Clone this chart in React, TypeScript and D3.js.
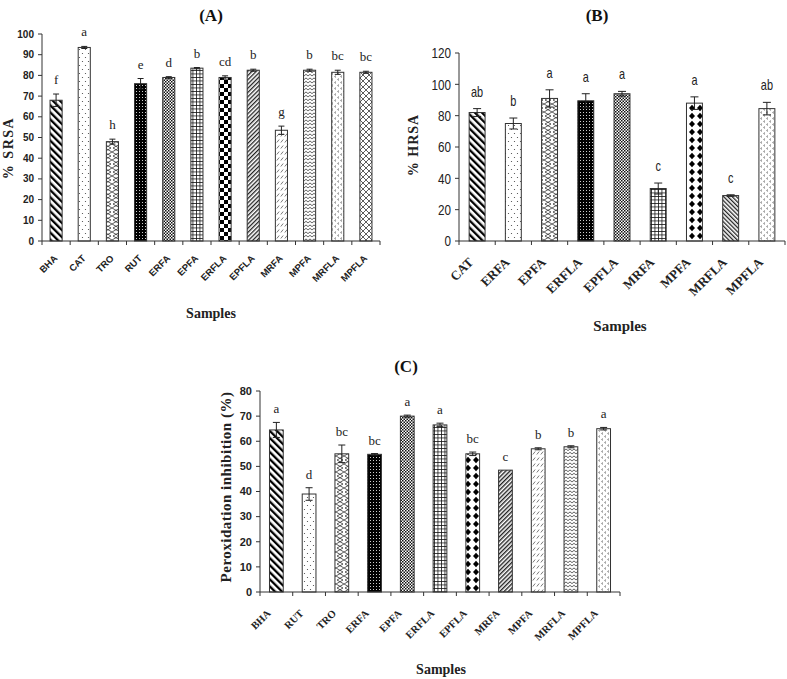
import React from 'react';
import * as d3 from 'd3';

// Panel A - superoxide radical scavenging
const aCats = ['BHA', 'CAT', 'TRO', 'RUT', 'ERFA', 'EPFA', 'ERFLA', 'EPFLA', 'MRFA', 'MPFA', 'MRFLA', 'MPFLA'];
const aValues = [68, 93.5, 48, 76, 79, 83.5, 79, 82.5, 53.5, 82.5, 81.5, 81.5];
const aErrors = [3, 0.5, 1.2, 2.5, 0.4, 0.3, 0.8, 0.5, 2, 0.5, 1, 0.5];
const aLetters = ['f', 'a', 'h', 'e', 'd', 'b', 'cd', 'b', 'g', 'b', 'bc', 'bc'];
const aFills = ['bdiag', 'dots', 'zigzag', 'blackdots', 'finecheck', 'grid', 'bigcheck', 'fdiag', 'dashes', 'wave', 'dots2', 'crosshatch'];
const aTicks = [0, 10, 20, 30, 40, 50, 60, 70, 80, 90, 100];

// Panel B - hydroxyl radical scavenging
const bCats = ['CAT', 'ERFA', 'EPFA', 'ERFLA', 'EPFLA', 'MRFA', 'MPFA', 'MRFLA', 'MPFLA'];
const bValues = [82, 75, 91, 89.5, 94, 33.5, 88, 29, 84.5];
const bErrors = [2.5, 3.5, 5.5, 4.5, 1.5, 3.5, 4, 0.5, 4];
const bLetters = ['ab', 'b', 'a', 'a', 'a', 'c', 'a', 'c', 'ab'];
const bFills = ['bdiag', 'dots', 'zigzag', 'blackdots', 'finecheck', 'grid', 'diamonds', 'bdiagfine', 'dots2'];
const bTicks = [0, 20, 40, 60, 80, 100, 120];

// Panel C - lipid peroxidation inhibition
const cCats = ['BHA', 'RUT', 'TRO', 'ERFA', 'EPFA', 'ERFLA', 'EPFLA', 'MRFA', 'MPFA', 'MRFLA', 'MPFLA'];
const cValues = [64.5, 39, 55, 54.8, 70, 66.5, 55, 48.5, 57, 57.8, 65];
const cErrors = [3, 2.5, 3.5, 0.3, 0.4, 0.7, 0.7, 0, 0.4, 0.4, 0.5];
const cLetters = ['a', 'd', 'bc', 'bc', 'a', 'a', 'bc', 'c', 'b', 'b', 'a'];
const cFills = ['bdiag', 'dots', 'zigzag', 'blackdots', 'finecheck', 'grid', 'diamonds', 'bdiagfine2', 'dashes', 'wave', 'dots2'];
const cTicks = [0, 10, 20, 30, 40, 50, 60, 70, 80];

const serif = "'Liberation Serif', 'Times New Roman', serif";
const sans = "'Liberation Sans', Arial, sans-serif";

function Patterns() {
  return (
    <defs>
      <pattern id="bdiag" patternUnits="userSpaceOnUse" width="5" height="5" patternTransform="rotate(-45)">
        <rect width="5" height="5" fill="#fff" />
        <rect width="2.3" height="5" fill="#000" />
      </pattern>
      <pattern id="bdiagfine" patternUnits="userSpaceOnUse" width="3" height="3" patternTransform="rotate(-45)">
        <rect width="3" height="3" fill="#fff" />
        <rect width="1.3" height="3" fill="#222" />
      </pattern>
      <pattern id="bdiagfine2" patternUnits="userSpaceOnUse" width="3" height="3" patternTransform="rotate(45)">
        <rect width="3" height="3" fill="#fff" />
        <rect width="1.4" height="3" fill="#222" />
      </pattern>
      <pattern id="fdiag" patternUnits="userSpaceOnUse" width="3" height="3" patternTransform="rotate(45)">
        <rect width="3" height="3" fill="#fff" />
        <rect width="1.3" height="3" fill="#222" />
      </pattern>
      <pattern id="dots" patternUnits="userSpaceOnUse" width="6" height="8">
        <rect width="6" height="8" fill="#fff" />
        <circle cx="1.5" cy="1.5" r="0.6" fill="#444" />
        <circle cx="4.5" cy="5.5" r="0.6" fill="#444" />
      </pattern>
      <pattern id="dots2" patternUnits="userSpaceOnUse" width="6" height="6">
        <rect width="6" height="6" fill="#fff" />
        <path d="M3,0.6 L1.6,1.5 L3,2.4 M6,3.6 L4.6,4.5 L6,5.4" stroke="#555" strokeWidth="0.7" fill="none" />
      </pattern>
      <pattern id="zigzag" patternUnits="userSpaceOnUse" width="8" height="8">
        <rect width="8" height="8" fill="#fff" />
        <path d="M0,0 L7,4 L0,8 M8,0 L1,4 L8,8" stroke="#333" strokeWidth="0.8" fill="none" />
      </pattern>
      <pattern id="blackdots" patternUnits="userSpaceOnUse" width="3" height="3">
        <rect width="3" height="3" fill="#000" />
        <rect x="1" y="1" width="0.9" height="0.9" fill="#fff" />
      </pattern>
      <pattern id="finecheck" patternUnits="userSpaceOnUse" width="3" height="3">
        <rect width="3" height="3" fill="#fff" />
        <rect width="1.5" height="1.5" fill="#111" />
        <rect x="1.5" y="1.5" width="1.5" height="1.5" fill="#111" />
      </pattern>
      <pattern id="grid" patternUnits="userSpaceOnUse" width="3.5" height="3.5">
        <rect width="3.5" height="3.5" fill="#fff" />
        <path d="M0,0.4 H3.5 M0.4,0 V3.5" stroke="#111" strokeWidth="0.8" />
      </pattern>
      <pattern id="bigcheck" patternUnits="userSpaceOnUse" width="8" height="8">
        <rect width="8" height="8" fill="#fff" />
        <rect width="4" height="4" fill="#000" />
        <rect x="4" y="4" width="4" height="4" fill="#000" />
      </pattern>
      <pattern id="dashes" patternUnits="userSpaceOnUse" width="4" height="6">
        <rect width="4" height="6" fill="#fff" />
        <path d="M0.8,4.5 L3.2,1.5" stroke="#555" strokeWidth="0.8" />
      </pattern>
      <pattern id="wave" patternUnits="userSpaceOnUse" width="4" height="3.5">
        <rect width="4" height="3.5" fill="#fff" />
        <path d="M0,2.6 L2,0.8 L4,2.6" stroke="#222" strokeWidth="0.8" fill="none" />
      </pattern>
      <pattern id="crosshatch" patternUnits="userSpaceOnUse" width="6" height="6">
        <rect width="6" height="6" fill="#fff" />
        <path d="M0,0 L6,6 M6,0 L0,6" stroke="#333" strokeWidth="0.8" />
      </pattern>
      <pattern id="diamonds" patternUnits="userSpaceOnUse" width="8" height="8">
        <rect width="8" height="8" fill="#fff" />
        <path d="M4,0.8 L7,4 L4,7.2 L1,4 Z" fill="#000" />
      </pattern>
    </defs>
  );
}

function Panel({ cats, values, errors, letters, fills, ticks, cfg }) {
  const y = d3.scaleLinear().domain([0, cfg.max]).range([cfg.y0, cfg.y1]);
  const x = d3.scaleBand().domain(cats).range([cfg.x0, cfg.x1]).padding(0);
  const bw = x.bandwidth() * cfg.barFrac;
  const cap = cfg.cap;

  return (
    <g>
      {cats.map((c, i) => {
        const cx = x(c) + x.bandwidth() / 2;
        const top = y(values[i] + errors[i]);
        return (
          <g key={c}>
            <rect x={cx - bw / 2} y={y(values[i])} width={bw} height={cfg.y0 - y(values[i])}
              fill={`url(#${fills[i]})`} stroke="#333" strokeWidth={1} />
            {errors[i] > 0 && (
              <g stroke="#222" strokeWidth={1}>
                <line x1={cx} x2={cx} y1={y(values[i] - errors[i])} y2={top} />
                <line x1={cx - cap / 2} x2={cx + cap / 2} y1={top} y2={top} />
                <line x1={cx - cap / 2} x2={cx + cap / 2} y1={y(values[i] - errors[i])} y2={y(values[i] - errors[i])} />
              </g>
            )}
            <text transform={`translate(${cx},${top - cfg.letterGap}) scale(${cfg.letterScale},1)`}
              textAnchor="middle" fontFamily={cfg.letterFont}
              fontSize={cfg.letterSize} fill="#222">{letters[i]}</text>
            <text transform={`translate(${cx + cfg.labelDx},${cfg.y0 + cfg.labelDy}) rotate(-45)`}
              textAnchor="end" fontFamily={cfg.labelFont} fontWeight="bold" fontSize={cfg.labelSize} fill="#222">
              {c}
            </text>
          </g>
        );
      })}
      {/* axes */}
      <g stroke="#333" strokeWidth={1} fill="none">
        <line x1={cfg.x0} x2={cfg.x0} y1={cfg.y0} y2={y(cfg.max)} />
        <line x1={cfg.x0} x2={cfg.x1} y1={cfg.y0} y2={cfg.y0} />
        {ticks.map(t => (
          <line key={t} x1={cfg.x0 - 4} x2={cfg.x0} y1={y(t)} y2={y(t)} />
        ))}
        {cats.map(c => (
          <line key={c} x1={x(c) + x.bandwidth()} x2={x(c) + x.bandwidth()} y1={cfg.y0} y2={cfg.y0 + 4} />
        ))}
        <line x1={cfg.x0} x2={cfg.x0} y1={cfg.y0} y2={cfg.y0 + 4} />
      </g>
      {ticks.map(t => (
        <text key={t} transform={`translate(${cfg.x0 - 8},${y(t)}) scale(${cfg.tickScale},1)`} dy="0.35em"
          textAnchor="end" fontFamily={cfg.tickFont}
          fontWeight={cfg.tickWeight} fontSize={cfg.tickSize} fill="#222">{t}</text>
      ))}
      <text transform={`translate(${cfg.yLabelX},${cfg.yLabelY}) rotate(-90)`} textAnchor="middle"
        fontFamily={serif} fontWeight="bold" fontSize={cfg.yLabelSize} letterSpacing={cfg.yLabelSpacing} fill="#222">
        {cfg.yLabel}
      </text>
      <text x={cfg.xTitleX} y={cfg.xTitleY} textAnchor="middle" fontFamily={serif} fontWeight="bold"
        fontSize={cfg.xTitleSize} fill="#222">Samples</text>
      <text x={cfg.titleX} y={cfg.titleY} textAnchor="middle" fontFamily={serif} fontWeight="bold"
        fontSize={17} fill="#111">{cfg.title}</text>
    </g>
  );
}

const cfgA = {
  x0: 42, x1: 380, y0: 241, y1: 34, max: 100, barFrac: 0.43, cap: 6,
  letterFont: serif, letterSize: 13, letterGap: 10, letterScale: 1,
  labelFont: sans, labelSize: 9.5, labelDx: 2, labelDy: 18,
  tickFont: sans, tickWeight: 'bold', tickSize: 10, tickScale: 1,
  yLabel: '%  SRSA', yLabelX: 13, yLabelY: 148, yLabelSize: 14, yLabelSpacing: 1.5,
  xTitleX: 211, xTitleY: 318, xTitleSize: 14,
  title: '(A)', titleX: 211, titleY: 21,
};

const cfgB = {
  x0: 459, x1: 785, y0: 241, y1: 53, max: 120, barFrac: 0.44, cap: 8,
  letterFont: sans, letterSize: 14, letterGap: 12, letterScale: 0.78,
  labelFont: serif, labelSize: 13, labelDx: -3, labelDy: 22,
  tickFont: sans, tickWeight: 'normal', tickSize: 15, tickScale: 0.78,
  yLabel: '%  HRSA', yLabelX: 418, yLabelY: 145, yLabelSize: 14, yLabelSpacing: 1,
  xTitleX: 620, xTitleY: 331, xTitleSize: 15,
  title: '(B)', titleX: 597, titleY: 21,
};

const cfgC = {
  x0: 260, x1: 620, y0: 592, y1: 391, max: 80, barFrac: 0.42, cap: 7,
  letterFont: serif, letterSize: 13, letterGap: 9, letterScale: 1,
  labelFont: serif, labelSize: 10.5, labelDx: -5, labelDy: 22,
  tickFont: sans, tickWeight: 'bold', tickSize: 11, tickScale: 1,
  yLabel: 'Peroxidation inhibition (%)', yLabelX: 231, yLabelY: 487, yLabelSize: 15, yLabelSpacing: 0.5,
  xTitleX: 441, xTitleY: 674, xTitleSize: 14,
  title: '(C)', titleX: 406, titleY: 372,
};

export default function App() {
  return (
    <svg width={787} height={679} style={{ position: 'absolute', left: 0, top: 0, background: '#fff' }}>
      <Patterns />
      <rect width={787} height={679} fill="#fff" />
      <Panel cats={aCats} values={aValues} errors={aErrors} letters={aLetters} fills={aFills} ticks={aTicks} cfg={cfgA} />
      <Panel cats={bCats} values={bValues} errors={bErrors} letters={bLetters} fills={bFills} ticks={bTicks} cfg={cfgB} />
      <Panel cats={cCats} values={cValues} errors={cErrors} letters={cLetters} fills={cFills} ticks={cTicks} cfg={cfgC} />
    </svg>
  );
}
